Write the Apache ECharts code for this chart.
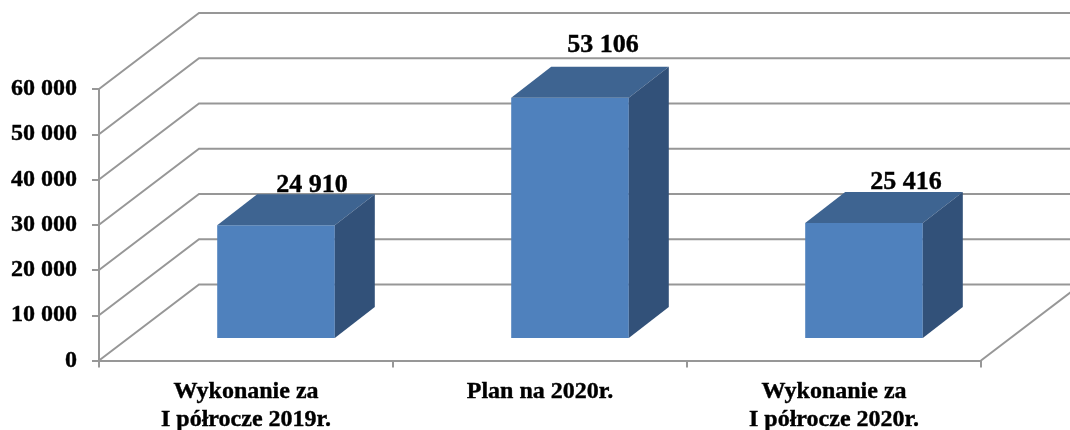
<!DOCTYPE html>
<html>
<head>
<meta charset="utf-8">
<title>Wykonanie i plan</title>
<script src="https://cdn.jsdelivr.net/npm/echarts@6/dist/echarts.min.js"></script>
<style>
html, body { margin: 0; padding: 0; background: #fff; }
#chart { width: 1070px; height: 430px; }
</style>
</head>
<body>
<div id="chart"></div>
<script>
const categories = ['Wykonanie za\nI półrocze 2019r.', 'Plan na 2020r.', 'Wykonanie za\nI półrocze 2020r.']
const values = [24910, 53106, 25416]
const yTicks = [0, 10000, 20000, 30000, 40000, 50000, 60000]

// oblique depth of the back wall and of the bars, in pixels
const wallDepth = [100, -76]
const barDepth = [40, -31]
const barShift = [30, -22.5]
// the value labels are hand placed in the original
const labelShift = [[36, -40], [33, -52], [42, -40.5]]

const font = '"Liberation Serif", "Times New Roman", serif'
const lineColor = '#979797'

const formatNumber = v => String(v).replace(/\B(?=(\d{3})+$)/g, ' ')

const myChart = echarts.init(document.getElementById('chart'))

const option = {
  backgroundColor: '#fff',
  animation: false,
  grid: { left: 99, right: 89, top: 89, bottom: 69.5, outerBoundsMode: 'none' },
  xAxis: {
    type: 'category',
    data: categories,
    axisLine: { lineStyle: { color: lineColor, width: 2 } },
    axisTick: { show: true, length: 7, lineStyle: { color: lineColor, width: 2 } },
    axisLabel: {
      margin: 17,
      color: '#000',
      fontFamily: font,
      fontWeight: 'bold',
      fontSize: 24,
      lineHeight: 28,
      textBorderColor: '#000',
      textBorderWidth: 0.4
    }
  },
  yAxis: {
    type: 'value',
    min: 0,
    max: 60000,
    interval: 10000,
    splitLine: { show: false },
    axisLine: { show: true, lineStyle: { color: lineColor, width: 2 } },
    axisTick: { show: true, length: 7, lineStyle: { color: lineColor, width: 2 } },
    axisLabel: {
      margin: 22,
      color: '#000',
      fontFamily: font,
      fontWeight: 'bold',
      fontSize: 24,
      textBorderColor: '#000',
      textBorderWidth: 0.4,
      formatter: formatNumber
    }
  },
  series: [
    {
      // walls: slanted line from the axis, then along the back
      type: 'custom',
      silent: true,
      clip: false,
      z: 1,
      encode: { y: 0 },
      data: yTicks.map(v => [v]),
      renderItem (params, api) {
        const rect = params.coordSys
        const y = api.coord([0, api.value(0)])[1]
        const backX = rect.x + wallDepth[0]
        const backY = y + wallDepth[1]
        const children = [{
          type: 'polyline',
          shape: { points: [[rect.x, y], [backX, backY], [rect.x + rect.width + wallDepth[0], backY]] },
          style: { fill: 'none', stroke: lineColor, lineWidth: 2 }
        }]
        if (api.value(0) === 0) {
          children.push({
            type: 'line',
            shape: {
              x1: rect.x + rect.width,
              y1: y,
              x2: rect.x + rect.width + wallDepth[0],
              y2: backY
            },
            style: { stroke: lineColor, lineWidth: 2 }
          })
        }
        return { type: 'group', children }
      }
    },
    {
      type: 'custom',
      silent: true,
      clip: false,
      z: 2,
      encode: { x: 0, y: 1 },
      data: values.map((v, i) => [i, v]),
      renderItem (params, api) {
        const i = api.value(0)
        const value = api.value(1)
        const top = api.coord([i, value])
        const bottom = api.coord([i, 0])
        const w = api.size([1, 0])[0] * 0.4
        const x0 = top[0] + barShift[0] - w / 2
        const x1 = x0 + w
        const yTop = top[1] + barShift[1]
        const yBottom = bottom[1] + barShift[1]
        const dx = barDepth[0]
        const dy = barDepth[1]
        return {
          type: 'group',
          children: [
            {
              type: 'rect',
              shape: { x: x0, y: yTop, width: w, height: yBottom - yTop },
              style: { fill: '#4f81bd' }
            },
            {
              type: 'polygon',
              shape: { points: [[x0, yTop], [x0 + dx, yTop + dy], [x1 + dx, yTop + dy], [x1, yTop]] },
              style: { fill: '#3e6491' }
            },
            {
              type: 'polygon',
              shape: { points: [[x1, yTop], [x1 + dx, yTop + dy], [x1 + dx, yBottom + dy], [x1, yBottom]] },
              style: { fill: '#325179' }
            },
            {
              type: 'text',
              z2: 10,
              style: {
                x: top[0] + barShift[0] + labelShift[i][0],
                y: yTop + labelShift[i][1],
                text: formatNumber(value),
                align: 'center',
                verticalAlign: 'middle',
                fill: '#000',
                stroke: '#000',
                lineWidth: 0.4,
                font: 'bold 26px ' + font
              }
            }
          ]
        }
      }
    }
  ]
}

myChart.setOption(option)

window.addEventListener('resize', () => {
  myChart.resize()
})
</script>
</body>
</html>
